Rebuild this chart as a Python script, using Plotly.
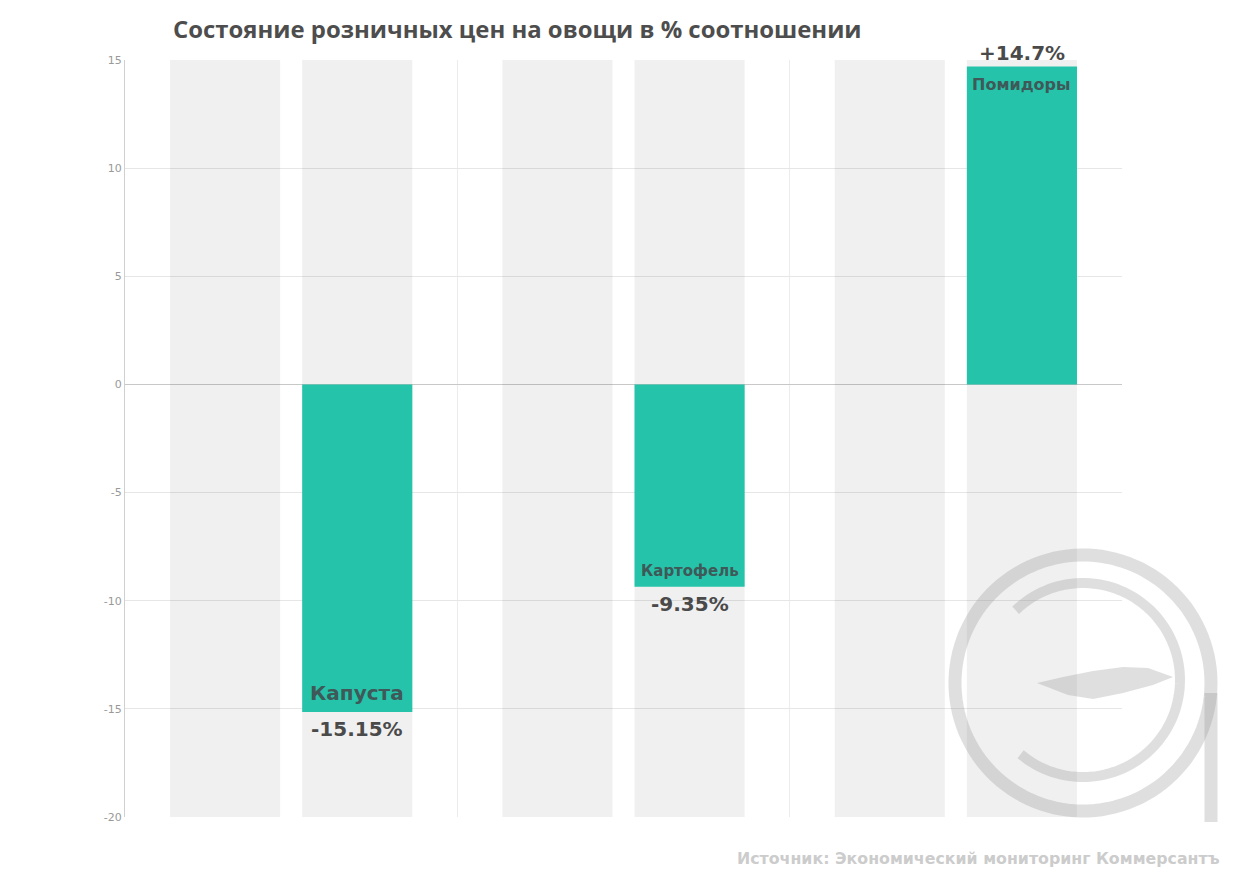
import numpy as np
import plotly.graph_objects as go

# ---- data ----
categories = ["Капуста", "Картофель", "Помидоры"]
values = [-15.15, -9.35, 14.7]
value_labels = ["-15.15%", "-9.35%", "+14.7%"]
y_min, y_max = -20, 15
y_ticks = [-20, -15, -10, -5, 0, 5, 10, 15]
y_tick_text = ["-20", "-15", "-10", "-5", "0", "5", "10", "15"]

title_text = "Состояние розничных цен на овощи в % соотношении"
source_text = "Источник: Экономический мониторинг Коммерсантъ"

# ---- style ----
W, H = 1247, 887
ML, MR, MT, MB = 125, 125, 60, 70
GREEN = "#25c4aa"
BG_BAR = "rgba(0,0,0,0.06)"
BARGAP = 0.2046
BARGROUPGAP = 0.1667
name_sizes = [20, 15, 16]
value_size = 20
plot_w = W - ML - MR
plot_h = H - MT - MB
slot_shift = plot_w / len(categories) * (1 - BARGAP) / 4

fig = go.Figure()
bg_heights = [y_max - y_min] * len(categories)
fig.add_trace(go.Bar(x=categories, y=bg_heights, base=[y_min] * len(categories),
                     offsetgroup="a", marker=dict(color=BG_BAR, line=dict(width=0)),
                     hoverinfo="skip"))
fig.add_trace(go.Bar(x=categories, y=bg_heights, base=[y_min] * len(categories),
                     offsetgroup="b", marker=dict(color=BG_BAR, line=dict(width=0)),
                     hoverinfo="skip"))
fig.add_trace(go.Bar(x=categories, y=values, offsetgroup="b",
                     marker=dict(color=GREEN, line=dict(width=0)), hoverinfo="skip"))

annotations = []
for cat, v, lab, fs in zip(categories, values, value_labels, name_sizes):
    neg = v < 0
    annotations.append(dict(x=cat, y=v, xref="x", yref="y", xshift=slot_shift,
                            text=f"<b>{cat}</b>", showarrow=False,
                            yanchor="bottom" if neg else "top",
                            yshift=5 if neg else -7,
                            font=dict(family="DejaVu Sans", size=fs, color="#3f5858")))
    annotations.append(dict(x=cat, y=v, xref="x", yref="y", xshift=slot_shift,
                            text=f"<b>{lab}</b>", showarrow=False,
                            yanchor="top" if neg else "bottom",
                            yshift=-3 if neg else -1,
                            font=dict(family="DejaVu Sans", size=value_size, color="#4a4a4a")))

annotations.append(dict(x=(W - 25 - ML) / plot_w, y=-(858 - (H - MB)) / plot_h,
                        xref="paper", yref="paper", xanchor="right", yanchor="middle",
                        text=f"<b>{source_text}</b>", showarrow=False,
                        font=dict(family="DejaVu Sans", size=15.8, color="#cccccc")))

# ---- watermark (Kommersant logo) ----
wm_col = "rgba(150,150,150,0.3)"
anc_x = (1083 - ML) / plot_w
anc_y = (H - MB - 683) / plot_h


def poly(pts, close=False):
    s = "M " + " L ".join(f"{x:.1f},{y:.1f}" for x, y in pts)
    return s + (" Z" if close else "")


shapes = []
t = np.linspace(0, 2 * np.pi, 120)
shapes.append(dict(type="path", xref="paper", yref="paper", xsizemode="pixel", ysizemode="pixel",
                   xanchor=anc_x, yanchor=anc_y,
                   path=poly(list(zip(128 * np.cos(t), 128 * np.sin(t))), close=True),
                   line=dict(color=wm_col, width=13), layer="above"))
shapes.append(dict(type="path", xref="paper", yref="paper", xsizemode="pixel", ysizemode="pixel",
                   xanchor=anc_x, yanchor=anc_y,
                   path=poly([(128, -10), (128, -139)]),
                   line=dict(color=wm_col, width=13), layer="above"))
t2 = np.radians(np.linspace(134, -130, 100))
shapes.append(dict(type="path", xref="paper", yref="paper", xsizemode="pixel", ysizemode="pixel",
                   xanchor=anc_x, yanchor=anc_y + 3 / plot_h,
                   path=poly(list(zip(97 * np.cos(t2), 97 * np.sin(t2)))),
                   line=dict(color=wm_col, width=10), layer="above"))
leaf = [(-46, 0), (-20, 6), (10, 12), (40, 16), (65, 15), (90, 6), (70, -2), (40, -10),
        (10, -16), (-15, -12)]
shapes.append(dict(type="path", xref="paper", yref="paper", xsizemode="pixel", ysizemode="pixel",
                   xanchor=anc_x, yanchor=anc_y,
                   path=poly(leaf, close=True), fillcolor=wm_col, line=dict(width=0), layer="above"))

fig.update_layout(
    width=W, height=H,
    margin=dict(l=ML, r=MR, t=MT, b=MB),
    paper_bgcolor="white", plot_bgcolor="white",
    barmode="group", bargap=BARGAP, bargroupgap=BARGROUPGAP,
    showlegend=False,
    title=dict(text=f"<b>{title_text}</b>", x=173 / W, xanchor="left", xref="container",
               y=1 - 30 / H, yanchor="middle",
               font=dict(family="Open Sans", size=23.9, color="#4d4d4d")),
    xaxis=dict(showticklabels=False, showgrid=True, gridcolor="#ececec", tickson="boundaries",
               ticks="", zeroline=False, showline=False),
    yaxis=dict(range=[y_min, y_max], tickvals=y_ticks, ticktext=y_tick_text,
               showgrid=True, gridcolor="#e6e6e6",
               zeroline=True, zerolinecolor="#c8c8c8", zerolinewidth=1,
               showline=True, linecolor="#d0d0d0", linewidth=1, ticks="",
               tickfont=dict(family="DejaVu Sans", size=11, color="#999999")),
    annotations=annotations,
    shapes=shapes,
    hovermode=False,
)

fig.write_html("out.html")
